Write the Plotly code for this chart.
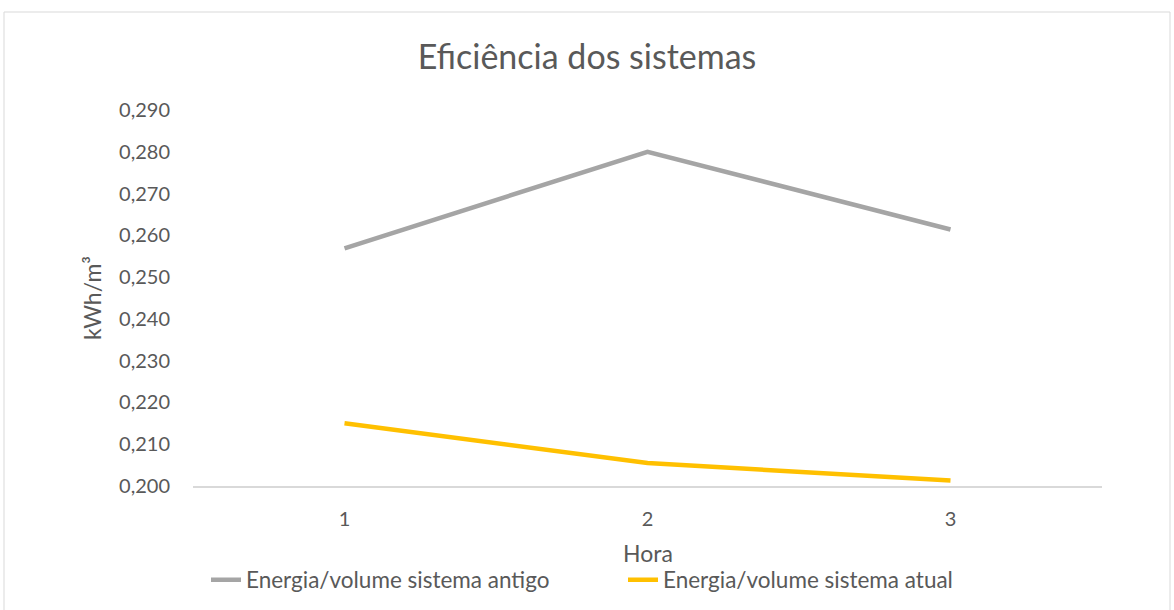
import plotly.graph_objects as go

horas = ["1", "2", "3"]
antigo = [0.2569, 0.2800, 0.2614]
atual = [0.2150, 0.2055, 0.2013]
nome_antigo = "Energia/volume sistema antigo"
nome_atual = "Energia/volume sistema atual"
titulo_x = "Hora"
y_ticks = [0.20 + 0.01 * i for i in range(10)]

FONT = "Lato"
TXT = "#595959"

fig = go.Figure()
fig.add_trace(go.Scatter(x=horas, y=antigo, name=nome_antigo, mode="lines",
                         line=dict(color="#A5A5A5", width=4.5)))
fig.add_trace(go.Scatter(x=horas, y=atual, name=nome_atual, mode="lines",
                         line=dict(color="#FFC000", width=4.5)))

fig.update_layout(
    width=1174, height=610,
    margin=dict(l=193, r=72, t=110, b=124, autoexpand=False),
    paper_bgcolor="white", plot_bgcolor="white",
    separators=",.",
    font=dict(family=FONT, color=TXT, size=20),
    title=dict(text="Eficiência dos sistemas", x=0.5, xanchor="center",
               y=1 - 57 / 610, yanchor="middle",
               font=dict(family=FONT, size=34, color=TXT)),
    showlegend=True,
    legend=dict(orientation="h", xref="container", yref="container",
                x=206 / 1174, xanchor="left", y=1 - 580 / 610, yanchor="middle",
                font=dict(size=22.5, color=TXT), itemwidth=30,
                entrywidth=372, entrywidthmode="pixels", bgcolor="rgba(0,0,0,0)"),
    xaxis=dict(type="category", range=[-0.5, 2.5], showgrid=False, zeroline=False,
               showline=True, linecolor="#D9D9D9", linewidth=1.5, ticks="",
               ticklabelstandoff=14, tickfont=dict(size=20, color=TXT)),
    yaxis=dict(range=[0.2, 0.29], tickvals=y_ticks, tickformat=".3f", showgrid=False,
               zeroline=False, showline=False, ticks="", ticklabelstandoff=22,
               tickfont=dict(size=20, color=TXT),
               title=dict(text="kWh/m³", font=dict(size=23, color=TXT), standoff=10)),
)

# x-axis title placed below the category labels
fig.add_annotation(text=titulo_x, xref="paper", yref="paper", x=0.5, y=(486 - 553) / 376,
                   xanchor="center", yanchor="middle", showarrow=False,
                   font=dict(family=FONT, size=23, color=TXT))

# chart frame
fig.add_shape(type="rect", xref="paper", yref="paper",
              x0=(4 - 193) / 909, x1=(1170 - 193) / 909,
              y0=(486 - 640) / 376, y1=(486 - 12) / 376,
              line=dict(color="#D9D9D9", width=1), fillcolor="rgba(0,0,0,0)", layer="below")

fig.write_html("out.html")
